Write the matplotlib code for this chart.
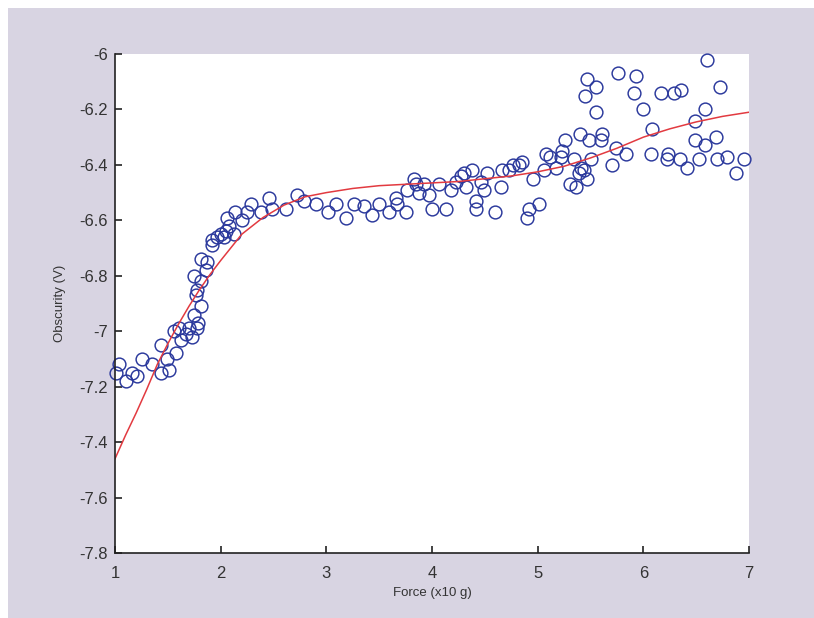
import numpy as np
import matplotlib
matplotlib.use('Agg')
import matplotlib.pyplot as plt
from matplotlib.patches import Rectangle
from matplotlib.ticker import FuncFormatter

plt.rcParams['font.family'] = ['Liberation Sans', 'DejaVu Sans']

# measured points (force x10 g, obscurity V)
force = [1.01, 1.04, 1.10, 1.16, 1.21, 1.26, 1.35, 1.44, 1.51, 1.44, 1.49, 1.58,
         1.56, 1.61, 1.62, 1.67, 1.70, 1.73, 1.78, 1.79, 1.75, 1.81, 1.77, 1.78,
         1.75, 1.81, 1.86, 1.81, 1.87, 1.92, 1.92, 1.97, 2.00, 2.05, 2.03, 2.08,
         2.13, 2.06, 2.14, 2.20, 2.25, 2.29, 2.38, 2.46, 2.49, 2.62, 2.72, 2.79,
         2.90, 3.02, 3.09, 3.19,
         3.26, 3.36, 3.43, 3.50, 3.59, 3.66, 3.67, 3.75, 3.76, 3.83, 3.85, 3.88,
         3.92, 3.97, 4.00, 4.07, 4.13, 4.18, 4.23, 4.27, 4.30, 4.32, 4.38, 4.42,
         4.42, 4.46, 4.49, 4.52, 4.60, 4.65, 4.66, 4.73, 4.77, 4.82, 4.90, 4.92,
         4.96, 5.01,
         6.60, 5.47, 5.55, 5.45, 5.76, 5.93, 5.91, 6.17, 6.29, 6.36, 6.73, 5.55,
         6.00, 6.08, 6.58, 6.49, 5.40, 5.49, 5.61, 5.60, 5.26, 5.74, 5.84, 6.07,
         6.23, 6.49, 6.58, 6.69, 4.85, 5.08, 5.12, 5.23, 5.22, 5.34, 5.50, 5.70,
         6.22, 6.35, 6.41, 6.53, 6.70, 6.79, 6.95, 6.88, 5.17, 5.06, 5.41, 5.39,
         5.44, 5.47, 5.31, 5.36]
obscurity = [-7.15, -7.12, -7.18, -7.15, -7.16, -7.10, -7.12, -7.15, -7.14, -7.05, -7.10, -7.08,
             -7.00, -6.99, -7.03, -7.01, -6.99, -7.02, -6.99, -6.97, -6.94, -6.91, -6.87, -6.85,
             -6.80, -6.82, -6.78, -6.74, -6.75, -6.69, -6.67, -6.66, -6.65, -6.64, -6.66, -6.62,
             -6.65, -6.59, -6.57, -6.60, -6.57, -6.54, -6.57, -6.52, -6.56, -6.56, -6.51, -6.53,
             -6.54, -6.57, -6.54, -6.59,
             -6.54, -6.55, -6.58, -6.54, -6.57, -6.52, -6.54, -6.57, -6.49, -6.45, -6.47, -6.50,
             -6.47, -6.51, -6.56, -6.47, -6.56, -6.49, -6.46, -6.44, -6.43, -6.48, -6.42, -6.53,
             -6.56, -6.46, -6.49, -6.43, -6.57, -6.48, -6.42, -6.42, -6.40, -6.40, -6.59, -6.56,
             -6.45, -6.54,
             -6.02, -6.09, -6.12, -6.15, -6.07, -6.08, -6.14, -6.14, -6.14, -6.13, -6.12, -6.21,
             -6.20, -6.27, -6.20, -6.24, -6.29, -6.31, -6.29, -6.31, -6.31, -6.34, -6.36, -6.36,
             -6.36, -6.31, -6.33, -6.30, -6.39, -6.36, -6.37, -6.35, -6.37, -6.38, -6.38, -6.40,
             -6.38, -6.38, -6.41, -6.38, -6.38, -6.37, -6.38, -6.43, -6.41, -6.42, -6.41, -6.43,
             -6.42, -6.45, -6.47, -6.48]

# fitted curve
fit_x = [1.0, 1.1, 1.2, 1.3, 1.4, 1.5, 1.6, 1.7, 1.8, 1.9, 2.0, 2.2, 2.4, 2.6,
         2.8, 3.0, 3.25, 3.5, 3.75, 4.0, 4.25, 4.5, 4.75, 5.0, 5.25, 5.5, 5.75,
         6.0, 6.25, 6.5, 6.75, 7.0]
fit_y = [-7.46, -7.375, -7.295, -7.21, -7.12, -7.045, -6.975, -6.91, -6.85, -6.795,
         -6.745, -6.65, -6.59, -6.545, -6.515, -6.50, -6.485, -6.475, -6.47, -6.465,
         -6.46, -6.45, -6.44, -6.425, -6.405, -6.375, -6.34, -6.30, -6.27, -6.245,
         -6.225, -6.21]

bg = '#d8d4e2'
fig = plt.figure(figsize=(8.14, 6.18), dpi=100, facecolor='white')
fig.patches.append(Rectangle((8/814, 0), 1, 1 - 8/618, transform=fig.transFigure,
                             facecolor=bg, edgecolor='none', zorder=-10))

ax = fig.add_axes([115/814, 65/618, 634/814, 499/618])
ax.plot(force, obscurity, 'o', mfc='none', mec='#2a389c', ms=9.2, mew=1.05, clip_on=False)
ax.plot(fit_x, fit_y, '-', color='#e23a40', lw=1.1)

ax.set_xlim(1, 7)
ax.set_ylim(-7.8, -6)
ax.set_xticks(range(1, 8))
ax.set_yticks(np.arange(-7.8, -5.99, 0.2))
ax.yaxis.set_major_formatter(FuncFormatter(lambda v, p: '%g' % round(v, 1)))

for s in ['top', 'right']:
    ax.spines[s].set_visible(False)
for s in ['left', 'bottom']:
    ax.spines[s].set_color('#222222')
    ax.spines[s].set_linewidth(1.2)
ax.tick_params(direction='in', length=5, width=1.2, colors='#222222',
               labelsize=12, labelcolor='#333333')
ax.tick_params(axis='x', pad=9)
ax.tick_params(axis='y', pad=5)

ax.set_xlabel('Force (x10 g)', fontsize=9.5, color='#333333', labelpad=5)
ax.set_ylabel('Obscurity (V)', fontsize=9.5, color='#333333', labelpad=10)

fig.savefig('out.png', dpi=100, facecolor=fig.get_facecolor())
